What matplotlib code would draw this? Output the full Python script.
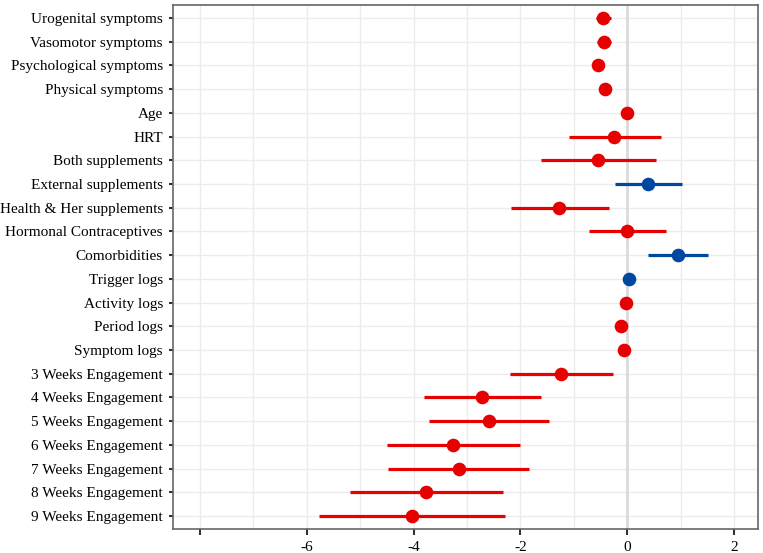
import matplotlib
matplotlib.use("Agg")
import matplotlib.pyplot as plt
import numpy as np

labels = ["Urogenital symptoms", "Vasomotor symptoms", "Psychological symptoms",
          "Physical symptoms", "Age", "HRT", "Both supplements", "External supplements",
          "Health & Her supplements", "Hormonal Contraceptives", "Comorbidities",
          "Trigger logs", "Activity logs", "Period logs", "Symptom logs",
          "3 Weeks Engagement", "4 Weeks Engagement", "5 Weeks Engagement",
          "6 Weeks Engagement", "7 Weeks Engagement", "8 Weeks Engagement",
          "9 Weeks Engagement"]
estimate = [-0.46, -0.44, -0.54, -0.41, 0.0, -0.24, -0.54, 0.39, -1.27, 0.0, 0.95,
            0.04, -0.02, -0.12, -0.05, -1.23, -2.72, -2.59, -3.26, -3.15, -3.76, -4.02]
ci_low = [-0.58, -0.56, -0.58, -0.45, -0.03, -1.08, -1.61, -0.22, -2.17, -0.72, 0.39,
          0.01, -0.05, -0.15, -0.08, -2.20, -3.81, -3.71, -4.50, -4.47, -5.19, -5.77]
ci_high = [-0.31, -0.31, -0.50, -0.37, 0.03, 0.63, 0.55, 1.03, -0.34, 0.73, 1.51,
           0.07, 0.01, -0.09, -0.02, -0.26, -1.61, -1.47, -2.00, -1.83, -2.32, -2.29]
positive = [False]*7 + [True] + [False]*2 + [True, True] + [False]*10

xticks = [-8, -6, -4, -2, 0, 2]
xticklabels = ["", "-6", "-4", "-2", "0", "2"]

RED = "#e60000"
BLUE = "#0047a0"

fig = plt.figure(figsize=(7.63, 5.53), dpi=100)
ax = fig.add_axes([0.2263, 0.0434, 0.7671, 0.9476])

n = len(labels)
ypos = np.arange(n)[::-1]

ax.set_xlim(-8.51, 2.45)
ax.set_ylim(-0.55, n - 0.45)

# grid
for x in np.arange(-8, 3, 1):
    if x == 0:
        continue
    ax.axvline(x, color="#ececec", lw=1.0, zorder=0)
for y in ypos:
    ax.axhline(y, color="#ececec", lw=1.0, zorder=0)
ax.axvline(0, color="#dadada", lw=2.0, zorder=0.5)

for yi, e, lo, hi, pos in zip(ypos, estimate, ci_low, ci_high, positive):
    c = BLUE if pos else RED
    ax.plot([lo, hi], [yi, yi], color=c, lw=2.3, solid_capstyle="butt", zorder=2)
    ax.plot([e], [yi], "o", color=c, ms=8.8, mec=c, zorder=3)

ax.set_yticks(ypos)
ax.set_yticklabels(labels, fontsize=11, fontfamily="Liberation Serif")
ax.set_xticks(xticks)
ax.set_xticklabels(xticklabels, fontsize=11, fontfamily="Liberation Serif")
ax.tick_params(axis="y", length=3, width=1.5, color="#333333", pad=4)
ax.tick_params(axis="x", length=4, width=1.5, color="#333333", pad=5)
for s in ax.spines.values():
    s.set_color("#666666")
    s.set_linewidth(1.2)

fig.savefig("out.png", dpi=100)
